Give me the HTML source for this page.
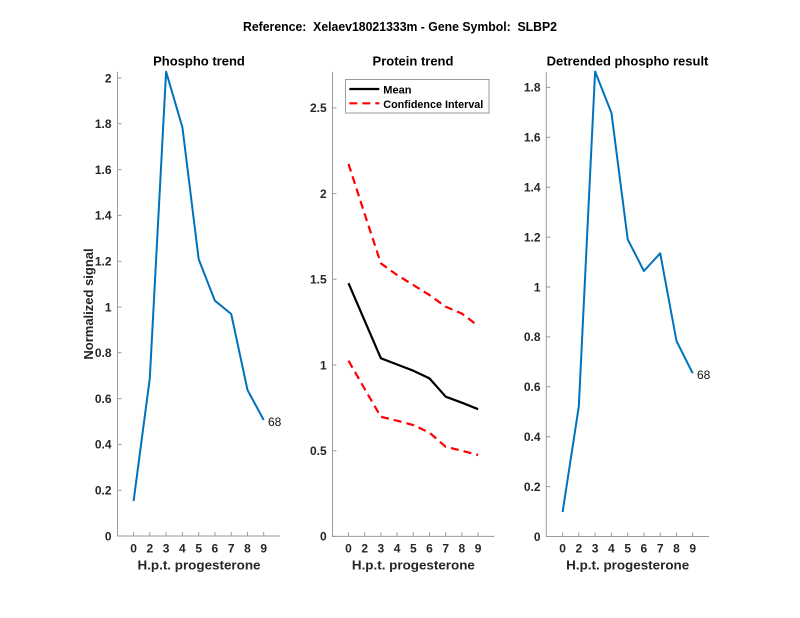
<!DOCTYPE html>
<html><head><meta charset="utf-8"><style>
html,body{margin:0;padding:0;background:#fff;}
svg{display:block;font-family:"Liberation Sans",Arial,sans-serif;}
.t{font-size:12px;font-weight:bold;fill:#262626;}
.ttl{font-size:13px;font-weight:bold;fill:#000;}
.lab{font-size:13px;font-weight:bold;fill:#262626;}
.ax{stroke:#9a9a9a;stroke-width:1;fill:none;}
.blue{stroke:#0072BD;stroke-width:2;fill:none;stroke-linejoin:round;}
.blk{stroke:#000;stroke-width:2.2;fill:none;stroke-linejoin:round;}
.red{stroke:#ff0000;stroke-width:2.2;fill:none;stroke-dasharray:8 5;}
.n{font-size:12px;fill:#111;}
.pre{white-space:pre;}
</style></head><body>
<svg width="800" height="618" viewBox="0 0 800 618" xmlns="http://www.w3.org/2000/svg">
<rect width="800" height="618" fill="#fff"/>
<text x="400" y="31" text-anchor="middle" class="ttl pre" xml:space="preserve" textLength="314" lengthAdjust="spacingAndGlyphs">Reference:  Xelaev18021333m - Gene Symbol:  SLBP2</text>

<!-- Left panel -->
<text x="199" y="65.7" text-anchor="middle" class="ttl">Phospho trend</text>
<path class="ax" d="M117.5 71.7 V536 H280"/>
<g class="ax">
<path d="M117.5 536h4M117.5 490.2h4M117.5 444.4h4M117.5 398.6h4M117.5 352.8h4M117.5 307h4M117.5 261.2h4M117.5 215.4h4M117.5 169.6h4M117.5 123.8h4M117.5 78h4"/>
<path d="M133.6 536v-4M149.8 536v-4M166.1 536v-4M182.4 536v-4M198.7 536v-4M214.9 536v-4M231.2 536v-4M247.5 536v-4M263.7 536v-4"/>
</g>
<g class="t" text-anchor="end">
<text x="111.5" y="540.3">0</text><text x="111.5" y="494.5">0.2</text><text x="111.5" y="448.7">0.4</text><text x="111.5" y="402.9">0.6</text><text x="111.5" y="357.1">0.8</text><text x="111.5" y="311.3">1</text><text x="111.5" y="265.5">1.2</text><text x="111.5" y="219.7">1.4</text><text x="111.5" y="173.9">1.6</text><text x="111.5" y="128.1">1.8</text><text x="111.5" y="82.3">2</text>
</g>
<g class="t" text-anchor="middle">
<text x="133.6" y="552.5">0</text><text x="149.8" y="552.5">2</text><text x="166.1" y="552.5">3</text><text x="182.4" y="552.5">4</text><text x="198.7" y="552.5">5</text><text x="214.9" y="552.5">6</text><text x="231.2" y="552.5">7</text><text x="247.5" y="552.5">8</text><text x="263.7" y="552.5">9</text>
</g>
<text x="199" y="569.5" text-anchor="middle" class="lab" textLength="123" lengthAdjust="spacingAndGlyphs">H.p.t. progesterone</text>
<text transform="translate(93,304) rotate(-90)" text-anchor="middle" class="lab">Normalized signal</text>
<polyline class="blue" points="133.6,501 149.8,378.2 166.1,71.7 182.4,127.3 198.7,259.3 214.9,300.7 231.2,314 247.5,390 263.7,420"/>
<text x="268" y="426" class="n">68</text>

<!-- Middle panel -->
<text x="413" y="65.7" text-anchor="middle" class="ttl">Protein trend</text>
<path class="ax" d="M332.5 71.7 V536.4 H494.3"/>
<g class="ax">
<path d="M332.5 536.4h4M332.5 450.7h4M332.5 365h4M332.5 279.3h4M332.5 193.6h4M332.5 107.9h4"/>
<path d="M348.5 536.4v-4M364.7 536.4v-4M380.9 536.4v-4M397.1 536.4v-4M413.3 536.4v-4M429.5 536.4v-4M445.7 536.4v-4M461.9 536.4v-4M478.1 536.4v-4"/>
</g>
<g class="t" text-anchor="end">
<text x="326.7" y="540.7">0</text><text x="326.7" y="455">0.5</text><text x="326.7" y="369.3">1</text><text x="326.7" y="283.6">1.5</text><text x="326.7" y="197.9">2</text><text x="326.7" y="112.2">2.5</text>
</g>
<g class="t" text-anchor="middle">
<text x="348.5" y="552.5">0</text><text x="364.7" y="552.5">2</text><text x="380.9" y="552.5">3</text><text x="397.1" y="552.5">4</text><text x="413.3" y="552.5">5</text><text x="429.5" y="552.5">6</text><text x="445.7" y="552.5">7</text><text x="461.9" y="552.5">8</text><text x="478.1" y="552.5">9</text>
</g>
<text x="413.4" y="569.5" text-anchor="middle" class="lab" textLength="123" lengthAdjust="spacingAndGlyphs">H.p.t. progesterone</text>
<polyline class="red" points="348.5,163.9 364.7,214.2 380.9,263.4 397.1,275 413.3,285 429.5,295.1 445.7,306.7 461.9,313.6 478.1,325.9"/>
<polyline class="blk" points="348.5,283.2 364.7,320.8 380.9,358.3 397.1,364.5 413.3,370.7 429.5,378.4 445.7,396.7 461.9,402.7 478.1,409.2"/>
<polyline class="red" points="348.5,360.7 364.7,389 380.9,416.8 397.1,420.7 413.3,425 429.5,432.7 445.7,446.8 461.9,450.7 478.1,455"/>
<rect x="345.5" y="79.5" width="143.5" height="33.5" fill="#fff" stroke="#9a9a9a" stroke-width="1"/>
<line x1="349.3" y1="89" x2="379.3" y2="89" stroke="#000" stroke-width="2.2"/>
<line x1="349.3" y1="103.3" x2="379.3" y2="103.3" stroke="#ff0000" stroke-width="2.2" stroke-dasharray="8 5"/>
<text x="383.3" y="93.3" style="font-size:11px;font-weight:bold;fill:#000">Mean</text>
<text x="383.3" y="108" style="font-size:11px;font-weight:bold;fill:#000" textLength="100" lengthAdjust="spacingAndGlyphs">Confidence Interval</text>

<!-- Right panel -->
<text x="627.5" y="65.7" text-anchor="middle" class="ttl">Detrended phospho result</text>
<path class="ax" d="M546.3 71.7 V536.5 H709"/>
<g class="ax">
<path d="M546.3 536.5h4M546.3 486.6h4M546.3 436.7h4M546.3 386.8h4M546.3 336.9h4M546.3 287h4M546.3 237.1h4M546.3 187.2h4M546.3 137.3h4M546.3 87.4h4"/>
<path d="M562.6 536.5v-4M578.8 536.5v-4M595.1 536.5v-4M611.4 536.5v-4M627.7 536.5v-4M643.9 536.5v-4M660.2 536.5v-4M676.5 536.5v-4M692.7 536.5v-4"/>
</g>
<g class="t" text-anchor="end">
<text x="540.5" y="540.8">0</text><text x="540.5" y="490.9">0.2</text><text x="540.5" y="441">0.4</text><text x="540.5" y="391.1">0.6</text><text x="540.5" y="341.2">0.8</text><text x="540.5" y="291.3">1</text><text x="540.5" y="241.4">1.2</text><text x="540.5" y="191.5">1.4</text><text x="540.5" y="141.6">1.6</text><text x="540.5" y="91.7">1.8</text>
</g>
<g class="t" text-anchor="middle">
<text x="562.6" y="552.5">0</text><text x="578.8" y="552.5">2</text><text x="595.1" y="552.5">3</text><text x="611.4" y="552.5">4</text><text x="627.7" y="552.5">5</text><text x="643.9" y="552.5">6</text><text x="660.2" y="552.5">7</text><text x="676.5" y="552.5">8</text><text x="692.7" y="552.5">9</text>
</g>
<text x="627.7" y="569.5" text-anchor="middle" class="lab" textLength="123" lengthAdjust="spacingAndGlyphs">H.p.t. progesterone</text>
<polyline class="blue" points="562.6,512 578.8,406.5 595.1,71.5 611.4,112.7 627.7,239.3 643.9,271 660.2,253.3 676.5,341 692.7,373.3"/>
<text x="697" y="379" class="n">68</text>
</svg>
</body></html>
